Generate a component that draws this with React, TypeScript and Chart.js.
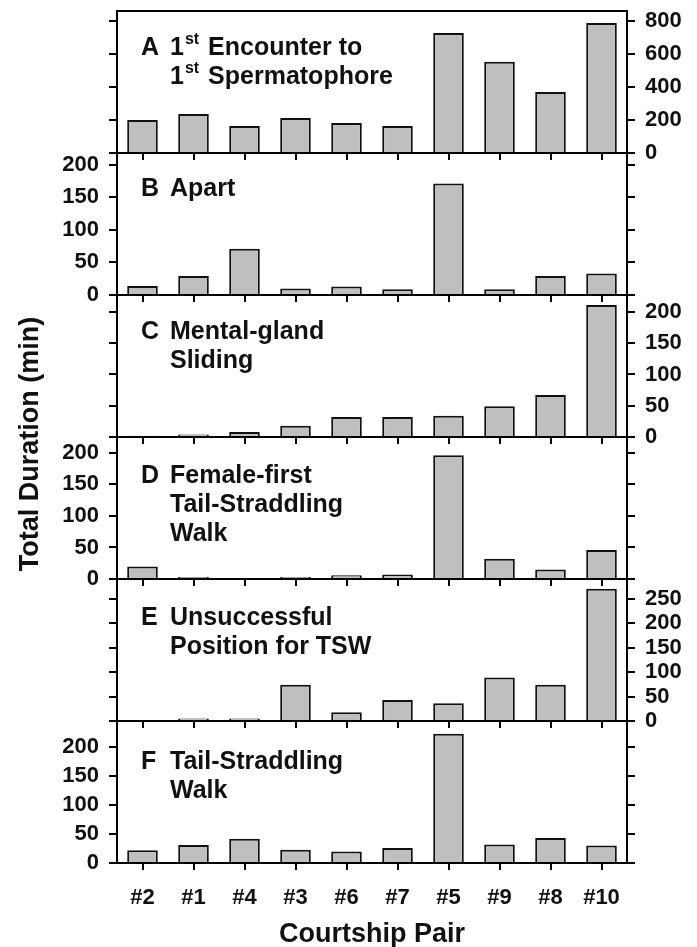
import React, { useEffect, useRef } from 'react';
import { Chart, registerables } from 'chart.js';

Chart.register(...registerables);

// ---------- data ----------
const pairs = ['#2', '#1', '#4', '#3', '#6', '#7', '#5', '#9', '#8', '#10'];

const encounterToSpermatophore = [200, 236, 164, 212, 182, 164, 727, 552, 370, 788];
const apart = [14, 29, 71, 10, 13, 9, 171, 9, 29, 33];
const mentalGlandSliding = [2, 4, 8, 18, 32, 32, 34, 49, 67, 211];
const femaleFirstTSW = [20, 3, 0, 3, 6, 7, 196, 32, 15, 46];
const unsuccessfulPosition = [0, 5, 5, 74, 18, 43, 36, 89, 74, 270];
const tailStraddlingWalk = [22, 31, 42, 23, 20, 26, 223, 32, 43, 30];

const ticksA = [0, 200, 400, 600, 800];
const ticks200 = [0, 50, 100, 150, 200];
const ticks250 = [0, 50, 100, 150, 200, 250];

const panelValues = [
  encounterToSpermatophore,
  apart,
  mentalGlandSliding,
  femaleFirstTSW,
  unsuccessfulPosition,
  tailStraddlingWalk,
];
const panelTicks = [ticksA, ticks200, ticks200, ticks200, ticks250, ticks200];
const panelMax = [860, 218, 227, 225, 290, 245];
const panelLetters = ['A', 'B', 'C', 'D', 'E', 'F'];
const panelTitles = [
  ['1^st Encounter to', '1^st Spermatophore'],
  ['Apart'],
  ['Mental-gland', 'Sliding'],
  ['Female-first', 'Tail-Straddling', 'Walk'],
  ['Unsuccessful', 'Position for TSW'],
  ['Tail-Straddling', 'Walk'],
];
const labelSide = ['right', 'left', 'right', 'left', 'right', 'left'];

const yTitle = 'Total Duration (min)';
const xTitle = 'Courtship Pair';

// ---------- layout / style ----------
const W = 697;
const H = 947;
const PLOT_LEFT = 117;
const PLOT_RIGHT = 627;
const FIRST_TOP = 11;
const PANEL_H = 142;
const FONT = '"Liberation Sans", Arial, Helvetica, sans-serif';
const TICK_SIZE = 22;
const PANEL_SIZE = 25;
const LINE_GAP = 29;
const LABEL_OFFSETS = [44, 43, 44, 46, 46, 48];

function drawRich(ctx: CanvasRenderingContext2D, text: string, x: number, y: number, size: number) {
  const parts = text.split(/(\^[A-Za-z]+)/);
  let cx = x;
  for (const p of parts) {
    if (!p) continue;
    if (p.startsWith('^')) {
      const s = p.slice(1);
      ctx.font = `bold ${Math.round(size * 0.62)}px ${FONT}`;
      ctx.fillText(s, cx + 1, y - size * 0.45);
      cx += ctx.measureText(s).width + 3;
    } else {
      ctx.font = `bold ${size}px ${FONT}`;
      ctx.fillText(p, cx, y);
      cx += ctx.measureText(p).width;
    }
  }
}

function makePlugin(i: number) {
  return {
    id: 'panelText' + i,
    afterDraw(chart: any) {
      const { ctx, chartArea } = chart;
      ctx.save();
      ctx.fillStyle = '#111';
      ctx.textAlign = 'left';
      ctx.textBaseline = 'alphabetic';
      const base = chartArea.top + LABEL_OFFSETS[i];
      ctx.font = `bold ${PANEL_SIZE}px ${FONT}`;
      ctx.fillText(panelLetters[i], chartArea.left + 24, base);
      panelTitles[i].forEach((line, k) => {
        drawRich(ctx, line, chartArea.left + 53, base + k * LINE_GAP, PANEL_SIZE);
      });
      if (i === 0) {
        ctx.translate(31, 444);
        ctx.rotate(-Math.PI / 2);
        ctx.textAlign = 'center';
        ctx.textBaseline = 'middle';
        ctx.font = `bold 27px ${FONT}`;
        ctx.fillText(yTitle, 0, 0);
      }
      ctx.restore();
    },
  };
}

function makeConfig(i: number): any {
  const top = FIRST_TOP + i * PANEL_H;
  const bottom = top + PANEL_H;
  const isLast = i === panelValues.length - 1;
  const tickFont = { family: FONT, size: TICK_SIZE, weight: 'bold' as const };

  const yAxis = (side: 'left' | 'right') => ({
    type: 'linear',
    position: side,
    min: 0,
    max: panelMax[i],
    afterBuildTicks: (s: any) => {
      s.ticks = panelTicks[i].map((v) => ({ value: v }));
    },
    afterFit: (s: any) => {
      s.width = side === 'left' ? PLOT_LEFT : W - PLOT_RIGHT;
      s.paddingTop = 0;
      s.paddingBottom = 0;
    },
    grid: {
      drawOnChartArea: false,
      drawTicks: true,
      tickLength: 8,
      lineWidth: 2,
      color: '#000',
    },
    border: { display: true, width: 2, color: '#000', z: 1 },
    ticks: {
      display: labelSide[i] === side,
      font: tickFont,
      color: '#111',
      padding: 10,
      autoSkip: false,
    },
  });

  const scales: any = {
    x: {
      type: 'category',
      position: 'bottom',
      offset: true,
      afterFit: (s: any) => {
        s.height = H - bottom;
        s.paddingLeft = 0;
        s.paddingRight = 0;
      },
      grid: {
        display: true,
        drawOnChartArea: false,
        drawTicks: true,
        tickLength: 7,
        lineWidth: 2,
        color: '#000',
        offset: false,
      },
      border: { display: true, width: 2, color: '#000', z: 1 },
      ticks: {
        display: isLast,
        font: tickFont,
        color: '#111',
        padding: 15,
        maxRotation: 0,
        autoSkip: false,
      },
      title: {
        display: isLast,
        text: xTitle,
        font: { family: FONT, size: 27, weight: 'bold', lineHeight: 0.9 },
        color: '#111',
        padding: 0,
      },
    },
    y: yAxis('left'),
    y2: yAxis('right'),
  };

  if (i === 0) {
    scales.xTop = {
      type: 'category',
      position: 'top',
      afterFit: (s: any) => {
        s.height = top;
        s.paddingLeft = 0;
        s.paddingRight = 0;
      },
      grid: { display: false },
      border: { display: true, width: 2, color: '#000', z: 1 },
      ticks: { display: false },
    };
  }

  return {
    type: 'bar',
    data: {
      labels: pairs,
      datasets: [
        {
          data: panelValues[i],
          backgroundColor: '#bfbfbf',
          borderColor: '#111',
          borderWidth: 2,
          barPercentage: 0.6,
          categoryPercentage: 1,
          xAxisID: 'x',
          yAxisID: 'y',
        },
      ],
    },
    options: {
      responsive: false,
      animation: false,
      devicePixelRatio: 1,
      layout: { padding: { top: i === 0 ? 0 : top, left: 0, right: 0, bottom: 0 } },
      plugins: {
        legend: { display: false },
        tooltip: { enabled: false },
        title: { display: false },
      },
      scales,
    },
    plugins: [makePlugin(i)],
  };
}

export default function App() {
  const refs = useRef<(HTMLCanvasElement | null)[]>([]);

  useEffect(() => {
    const charts = panelValues.map((_, i) => new Chart(refs.current[i] as HTMLCanvasElement, makeConfig(i)));
    return () => {
      charts.forEach((c) => c.destroy());
    };
  }, []);

  return (
    <div style={{ position: 'absolute', left: 0, top: 0, width: W, height: H, background: '#fff' }}>
      {panelValues.map((_, i) => (
        <canvas
          key={i}
          ref={(el) => {
            refs.current[i] = el;
          }}
          width={W}
          height={H}
          style={{ position: 'absolute', left: 0, top: 0, width: W, height: H }}
        />
      ))}
    </div>
  );
}
